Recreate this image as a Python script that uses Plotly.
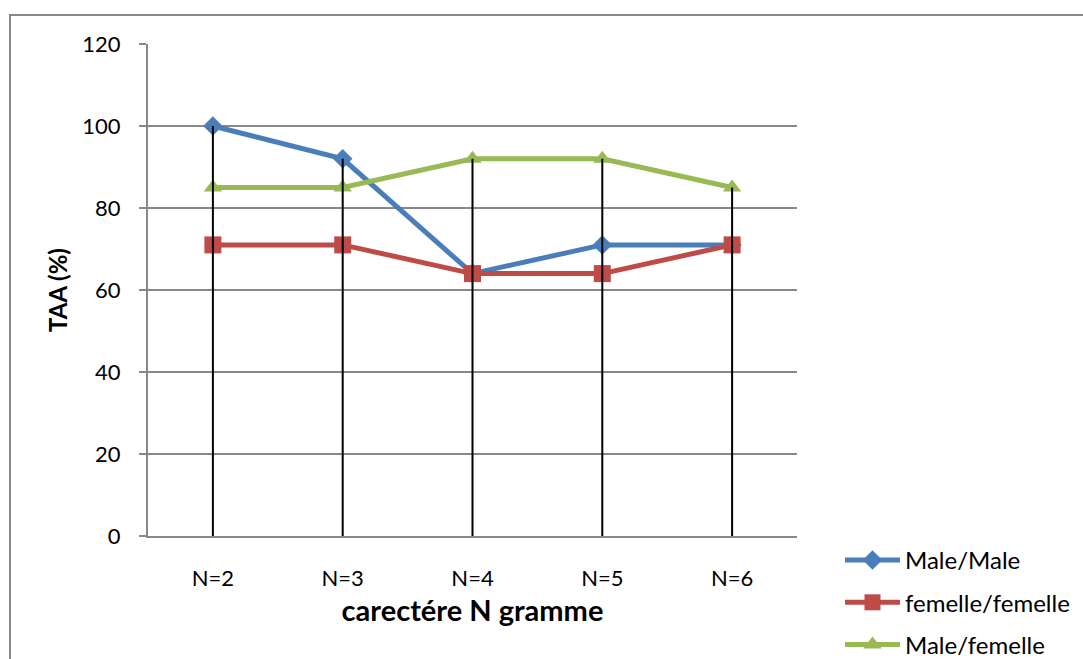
import plotly.graph_objects as go

# Data
categories = ["N=2", "N=3", "N=4", "N=5", "N=6"]
male_male = [100, 92, 64, 71, 71]
femelle_femelle = [71, 71, 64, 64, 71]
male_femelle = [85, 85, 92, 92, 85]

series = [
    ("Male/Male", male_male, "#4A7EBB", "diamond", 15),
    ("femelle/femelle", femelle_femelle, "#BE4B48", "square", 17),
    ("Male/femelle", male_femelle, "#98B954", "triangle-up", 16),
]

FONT = "Lato, 'Open Sans', sans-serif"
W, H = 1083, 659
L, R, T, B = 148, 286, 44, 123
pw, ph = W - L - R, H - T - B


def px_x(p):
    return (p - L) / pw


def px_y(p):
    return (H - B - p) / ph


fig = go.Figure()

for i, (name, vals, color, sym, size) in enumerate(series):
    fig.add_trace(go.Scatter(
        x=categories, y=vals, name=name, mode="lines+markers",
        line=dict(color=color, width=5),
        marker=dict(symbol=sym, size=size, color=color),
        legendgroup=f"g{i}",
    ))

# Drop lines from the highest point at each category down to the axis
dx, dy = [], []
for j, c in enumerate(categories):
    top = max(male_male[j], femelle_femelle[j], male_femelle[j])
    dx += [c, c, None]
    dy += [top, 0, None]
fig.add_trace(go.Scatter(
    x=dx, y=dy, mode="lines", line=dict(color="black", width=2),
    showlegend=False, hoverinfo="skip",
))

# Chart area border
fig.add_shape(
    type="rect", xref="paper", yref="paper",
    x0=px_x(10), x1=px_x(1100), y0=px_y(680), y1=px_y(15),
    line=dict(color="#888888", width=2), fillcolor="rgba(0,0,0,0)",
    layer="below",
)

fig.update_layout(
    width=W, height=H,
    margin=dict(l=L, r=R, t=T, b=B, pad=0, autoexpand=False),
    paper_bgcolor="white", plot_bgcolor="white",
    font=dict(family=FONT, size=22, color="black"),
    showlegend=True,
    legend=dict(
        x=px_x(840), y=px_y(538), xanchor="left", yanchor="top",
        font=dict(size=24, family=FONT), itemwidth=55,
        traceorder="grouped", tracegroupgap=8,
        bgcolor="rgba(0,0,0,0)",
    ),
    xaxis=dict(
        type="category", range=[-0.5, 4.5], automargin=False,
        showline=True, linecolor="#888888", linewidth=2,
        showgrid=False, ticks="", ticklabelstandoff=22,
        tickfont=dict(size=22),
        title=dict(text="<b>carectére N gramme</b>", font=dict(size=29), standoff=10),
    ),
    yaxis=dict(
        range=[0, 120], dtick=20, tick0=0, automargin=False,
        showline=True, linecolor="#888888", linewidth=2,
        showgrid=True, gridcolor="#888888", gridwidth=1.5,
        zeroline=False,
        ticks="outside", ticklen=7, tickcolor="#888888", tickwidth=2,
        ticklabelstandoff=14, tickfont=dict(size=22),
        title=dict(text="<b>TAA (%)</b>", font=dict(size=24), standoff=8),
    ),
)

fig.write_html("out.html")
